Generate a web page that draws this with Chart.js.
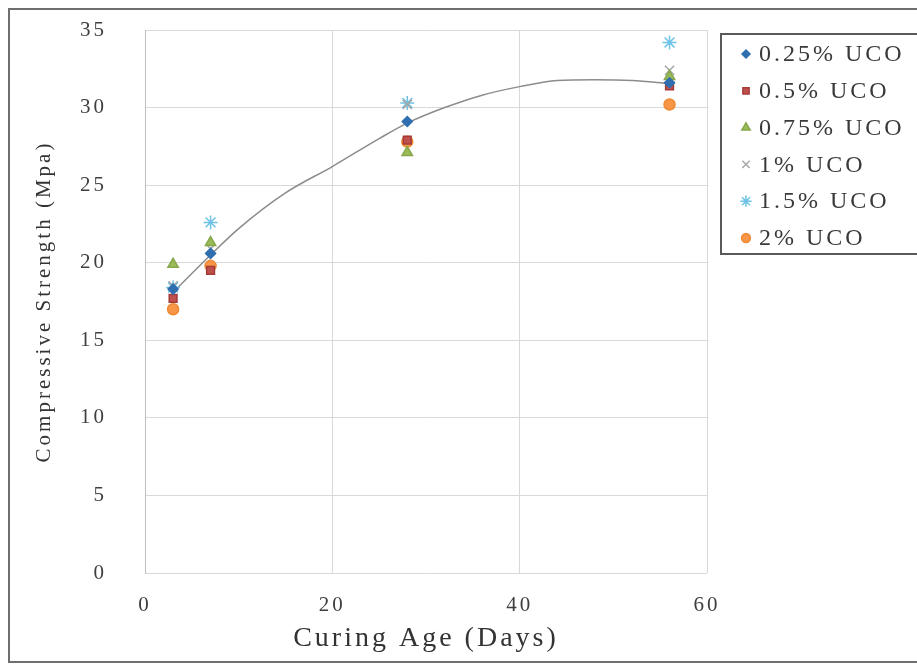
<!DOCTYPE html>
<html lang="en">
<head>
<meta charset="UTF-8">
<title>Compressive Strength vs Curing Age</title>
<script src="https://cdn.jsdelivr.net/npm/chart.js@4.4.1/dist/chart.umd.min.js"></script>
<style>
  html, body { margin: 0; padding: 0; background: #fff; }
  #wrap { width: 917px; height: 669px; }
</style>
</head>
<body>
<div id="wrap"><canvas id="myChart" width="917" height="669"></canvas></div>
<script>
// curing ages (days)
const days = [3, 7, 28, 56];

// compressive strength (MPa) per UCO content
const uco025 = [18.3, 20.6, 29.1, 31.6];
const uco05  = [17.7, 19.5, 27.9, 31.4];
const uco075 = [19.9, 21.3, 27.1, 32.0];
const uco1   = [18.5, 20.9, 30.2, 32.4];
const uco15  = [18.4, 22.6, 30.3, 34.2];
const uco2   = [17.0, 19.8, 27.8, 30.2];

// grey trend curve
const trendDays = [3, 7, 10, 15, 20, 25, 28, 32, 36, 40, 44, 48, 52, 56];
const trendVals = [18.1, 20.5, 22.2, 24.5, 26.2, 28.0, 29.0, 30.0, 30.8, 31.35, 31.75, 31.8, 31.75, 31.55];

const seriesLabels = ['0.25% UCO', '0.5% UCO', '0.75% UCO', '1% UCO', '1.5% UCO', '2% UCO'];

const xTicks = [0, 20, 40, 60];
const yTicks = [0, 5, 10, 15, 20, 25, 30, 35];

const serif = "'Liberation Serif', 'DejaVu Serif', serif";

function pts(ys) {
    return days.map((d, i) => ({ x: d, y: ys[i] }));
}

// стили маркеров
const markers = [
    { style: 'rectRot',  r: 5,   fill: '#2f6fb0', stroke: '#2f6fb0' },
    { style: 'rect',     r: 5.5, fill: '#c0504d', stroke: '#a33b38' },
    { style: 'triangle', r: 6,   fill: '#9bbb59', stroke: '#86a84a' },
    { style: 'crossRot', r: 6.5, fill: '#a6a6a6', stroke: '#a6a6a6' },
    { style: 'star',     r: 7,   fill: '#6ec3e6', stroke: '#6ec3e6' },
    { style: 'circle',   r: 5.5, fill: '#f79646', stroke: '#f08a35' }
];

const allSeries = [uco025, uco05, uco075, uco1, uco15, uco2];

const datasets = allSeries.map((ys, i) => ({
    label: seriesLabels[i],
    data: pts(ys),
    showLine: false,
    pointStyle: markers[i].style,
    pointRadius: markers[i].r,
    pointBackgroundColor: markers[i].fill,
    pointBorderColor: markers[i].stroke,
    pointBorderWidth: 1.5
}));

datasets.push({
    label: 'trend',
    data: trendDays.map((d, i) => ({ x: d, y: trendVals[i] })),
    showLine: true,
    borderColor: '#8c8c8c',
    borderWidth: 1.5,
    pointRadius: 0,
    tension: 0.4,
    cubicInterpolationMode: 'monotone',
    order: 10
});

// рамка вокруг всего рисунка
const framePlugin = {
    id: 'frame',
    beforeDraw(chart) {
        const ctx = chart.ctx;
        ctx.save();
        ctx.fillStyle = '#fff';
        ctx.fillRect(0, 0, chart.width, chart.height);
        ctx.strokeStyle = '#6e6e6e';
        ctx.lineWidth = 2;
        ctx.strokeRect(9, 9, chart.width + 10, chart.height - 16);
        ctx.restore();
        ctx.letterSpacing = '3px';
    }
};

// легенда справа
const legendBox = {
    id: 'legendBox',
    afterDraw(chart) {
        const ctx = chart.ctx;
        ctx.save();
        ctx.strokeStyle = '#595959';
        ctx.lineWidth = 2;
        ctx.strokeRect(721, 34, 220, 220);
        ctx.font = '24px ' + serif;
        ctx.letterSpacing = '3px';
        ctx.textBaseline = 'middle';
        ctx.textAlign = 'left';
        for (let i = 0; i < seriesLabels.length; i++) {
            const y = 54 + i * 36.8;
            const m = markers[i];
            ctx.fillStyle = m.fill;
            ctx.strokeStyle = m.stroke;
            ctx.lineWidth = 1.5;
            Chart.helpers.drawPoint(ctx, { pointStyle: m.style, radius: m.r * 0.8, borderWidth: 1.5, rotation: 0 }, 746, y);
            ctx.fillStyle = '#3a3a3a';
            ctx.fillText(seriesLabels[i], 759, y + 1);
        }
        ctx.restore();
    }
};

new Chart(document.getElementById('myChart'), {
    type: 'scatter',
    data: { datasets: datasets },
    plugins: [framePlugin, legendBox],
    options: {
        responsive: false,
        animation: false,
        layout: { padding: { left: 10, top: 30, right: 210, bottom: 10 } },
        plugins: {
            legend: { display: false },
            tooltip: { enabled: false }
        },
        scales: {
            x: {
                type: 'linear',
                min: 0,
                max: 60,
                afterBuildTicks: s => { s.ticks = xTicks.map(v => ({ value: v })); },
                afterFit: s => { s.height = 86; },
                grid: { color: '#d9d9d9', drawTicks: false },
                border: { display: false },
                ticks: { color: '#3f3f3f', padding: 20, font: { family: serif, size: 21 } },
                title: {
                    display: true,
                    text: 'Curing Age (Days)',
                    color: '#333',
                    font: { family: serif, size: 28 },
                    padding: { top: 0, bottom: 4 }
                }
            },
            y: {
                min: 0,
                max: 35,
                afterBuildTicks: s => { s.ticks = yTicks.map(v => ({ value: v })); },
                afterFit: s => {
                    s.width = 135;
                    s.paddingTop = 0;
                    s.paddingBottom = 0;
                },
                grid: { color: '#d9d9d9', drawTicks: false },
                border: { color: '#bfbfbf' },
                ticks: { color: '#3f3f3f', padding: 38, font: { family: serif, size: 21 } },
                title: {
                    display: true,
                    text: 'Compressive Strength (Mpa)',
                    color: '#333',
                    font: { family: serif, size: 21 },
                    padding: { top: 22, bottom: 0 }
                }
            }
        }
    }
});
</script>
</body>
</html>
